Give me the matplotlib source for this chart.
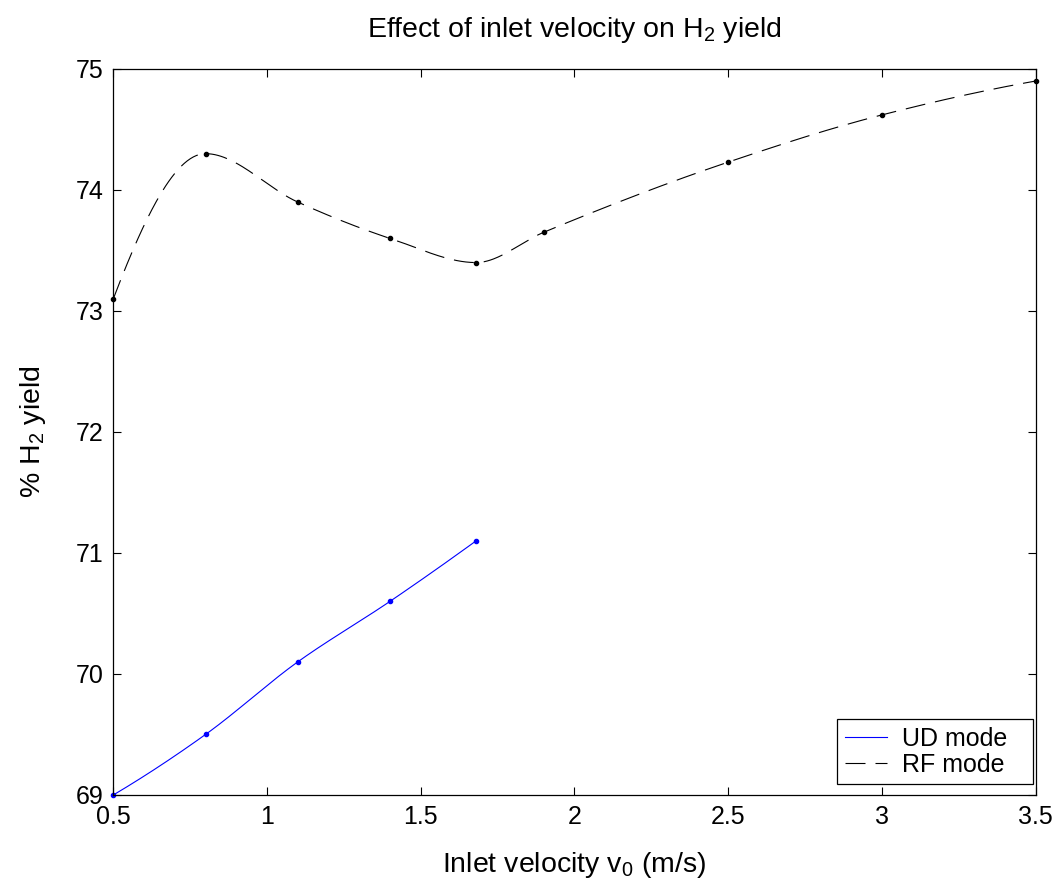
import numpy as np
import matplotlib
matplotlib.use("Agg")
import matplotlib.pyplot as plt

plt.rcParams['font.family'] = ['Liberation Sans', 'DejaVu Sans']
plt.rcParams['mathtext.fontset'] = 'custom'
plt.rcParams['mathtext.rm'] = 'Liberation Sans'
plt.rcParams['mathtext.it'] = 'Liberation Sans'
plt.rcParams['mathtext.default'] = 'regular'

# data
ud_v = [0.5, 0.8, 1.1, 1.4, 1.68]
ud_yield = [69.0, 69.5, 70.1, 70.6, 71.1]

rf_v = [0.5, 0.8, 1.1, 1.4, 1.68, 1.9, 2.5, 3.0, 3.5]
rf_yield = [73.1, 74.3, 73.9, 73.6, 73.4, 73.65, 74.23, 74.62, 74.9]

xticks = [0.5, 1, 1.5, 2, 2.5, 3, 3.5]
yticks = [69, 70, 71, 72, 73, 74, 75]


def pchip(x, y, xq):
    # shape preserving cubic (same as matlab pchip)
    x = np.asarray(x, float)
    y = np.asarray(y, float)
    h = np.diff(x)
    d = np.diff(y) / h
    n = len(x)
    m = np.zeros(n)
    for k in range(1, n - 1):
        if d[k - 1] * d[k] > 0:
            w1 = 2 * h[k] + h[k - 1]
            w2 = h[k] + 2 * h[k - 1]
            m[k] = (w1 + w2) / (w1 / d[k - 1] + w2 / d[k])

    def end_slope(h0, h1, d0, d1):
        s = ((2 * h0 + h1) * d0 - h0 * d1) / (h0 + h1)
        if np.sign(s) != np.sign(d0):
            s = 0.0
        elif np.sign(d0) != np.sign(d1) and abs(s) > abs(3 * d0):
            s = 3 * d0
        return s

    m[0] = end_slope(h[0], h[1], d[0], d[1])
    m[-1] = end_slope(h[-1], h[-2], d[-1], d[-2])

    xq = np.asarray(xq, float)
    idx = np.clip(np.searchsorted(x, xq) - 1, 0, n - 2)
    t = (xq - x[idx]) / h[idx]
    h00 = 2 * t**3 - 3 * t**2 + 1
    h10 = t**3 - 2 * t**2 + t
    h01 = -2 * t**3 + 3 * t**2
    h11 = t**3 - t**2
    return h00 * y[idx] + h10 * h[idx] * m[idx] + h01 * y[idx + 1] + h11 * h[idx] * m[idx + 1]


fig = plt.figure(figsize=(10.54, 8.84), dpi=100)
ax = fig.add_axes([0.1075, 0.1007, 0.875, 0.8213])

xs = np.linspace(ud_v[0], ud_v[-1], 300)
ax.plot(xs, pchip(ud_v, ud_yield, xs), color='blue', lw=0.8, label='UD mode')
ax.plot(ud_v, ud_yield, 'o', color='blue', ms=3, clip_on=False)

xs = np.linspace(rf_v[0], rf_v[-1], 600)
ax.plot(xs, pchip(rf_v, rf_yield, xs), color='black', lw=0.8,
        linestyle=(0, (18, 9)), label='RF mode')
ax.plot(rf_v, rf_yield, 'o', color='black', ms=3, clip_on=False)

ax.set_xlim(0.5, 3.5)
ax.set_ylim(69, 75)
ax.set_xticks(xticks)
ax.set_xticklabels(['0.5', '1', '1.5', '2', '2.5', '3', '3.5'])
ax.set_yticks(yticks)
ax.tick_params(direction='in', length=6, width=0.8, labelsize=18,
               top=True, right=True, pad=7)
for sp in ax.spines.values():
    sp.set_linewidth(0.9)

ax.set_title('Effect of inlet velocity on H$_2$ yield', fontsize=20.5, pad=23)
ax.set_xlabel('Inlet velocity v$_0$ (m/s)', fontsize=20.5, labelpad=15)
ax.set_ylabel('% H$_2$ yield', fontsize=20.5, labelpad=20)

leg = ax.legend(loc='lower left', bbox_to_anchor=(0.785, 0.015, 0.212, 0.08),
                mode='expand', fontsize=18,
                fancybox=False, framealpha=1, edgecolor='black',
                borderpad=0.3, labelspacing=0.08, handlelength=1.7,
                handletextpad=0.6, borderaxespad=0)
leg.get_frame().set_linewidth(0.9)

fig.savefig('out.png', dpi=100)
